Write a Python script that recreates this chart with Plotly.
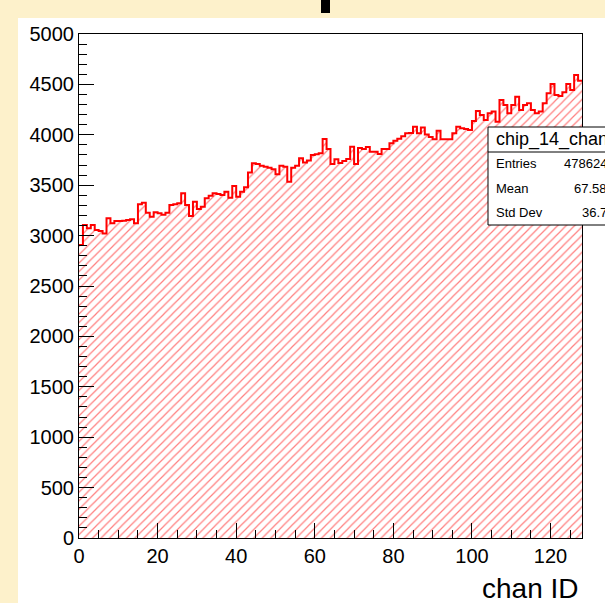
import plotly.graph_objects as go

# Counts per channel (128 channels, one bin each)
counts = [
    2907, 3105, 3072, 3105, 3056, 3046, 3022, 3171, 3122, 3145,
    3145, 3148, 3155, 3161, 3122, 3310, 3327, 3227, 3188, 3231,
    3221, 3208, 3227, 3304, 3310, 3320, 3420, 3304, 3194, 3337,
    3264, 3287, 3370, 3396, 3420, 3413, 3403, 3436, 3376, 3492,
    3386, 3436, 3479, 3625, 3717, 3710, 3694, 3684, 3674, 3657,
    3608, 3694, 3684, 3535, 3674, 3694, 3767, 3724, 3744, 3800,
    3806, 3817, 3958, 3859, 3710, 3757, 3720, 3740, 3760, 3882,
    3710, 3870, 3860, 3880, 3833, 3833, 3810, 3860, 3860, 3915,
    3942, 3960, 3985, 4015, 4018, 4081, 4015, 4072, 4003, 3978,
    3956, 4041, 3955, 3955, 3955, 4015, 4081, 4064, 4058, 4048,
    4137, 4236, 4196, 4147, 4213, 4230, 4130, 4345, 4296, 4213,
    4296, 4378, 4246, 4296, 4312, 4246, 4213, 4230, 4312, 4411,
    4504, 4395, 4385, 4421, 4504, 4444, 4593, 4537,
]
n_bins = 128
x_ticks = [0, 20, 40, 60, 80, 100, 120]
y_ticks = [0, 500, 1000, 1500, 2000, 2500, 3000, 3500, 4000, 4500, 5000]

hist_name = "chip_14_chan"
stat_labels = ["Entries", "Mean", "Std Dev"]
stat_values = ["478624", "67.58", "36.7"]
x_title = "chan ID"

W, H = 605, 603
L, R, T, B = 79, 582, 34, 538  # frame edges in pixels

FONT = "Liberation Sans, Arial, Helvetica, sans-serif"
CREAM = "#fdf1cb"


def px(xp):
    return (xp - L) / (R - L)


def py(yp):
    return (B - yp) / (B - T)


edges = list(range(n_bins + 1))
steps = counts + [counts[-1]]

fig = go.Figure()
fig.add_trace(go.Scatter(
    x=edges, y=steps, mode="lines", line_shape="hv",
    line=dict(color="#ff0000", width=2),
    fill="tozeroy", fillcolor="rgba(0,0,0,0)",
    fillpattern=dict(shape="/", fgcolor="#ff0000", bgcolor="white",
                     size=6, solidity=0.2),
    hoverinfo="skip", showlegend=False,
))

shapes = [
    # white pad area
    dict(type="rect", xref="paper", yref="paper", layer="below",
         x0=px(18), x1=px(W + 10), y0=py(18), y1=py(H + 10),
         fillcolor="white", line=dict(width=0)),
    # fragment of title box above the frame
    dict(type="rect", xref="paper", yref="paper", layer="above",
         x0=px(321), x1=px(330), y0=py(0), y1=py(13),
         fillcolor="black", line=dict(width=0)),
    # statistics box
    dict(type="rect", xref="paper", yref="paper", layer="above",
         x0=px(488), x1=px(W + 20), y0=py(127), y1=py(225),
         fillcolor="white", line=dict(color="black", width=1)),
    dict(type="line", xref="paper", yref="paper", layer="above",
         x0=px(488), x1=px(W + 20), y0=py(152), y1=py(152),
         line=dict(color="black", width=1)),
]

annotations = [
    dict(text=hist_name, xref="paper", yref="paper", x=px(494), y=py(139.5),
         xanchor="left", yanchor="middle", showarrow=False,
         font=dict(family=FONT, size=18, color="black")),
    dict(text=x_title, xref="paper", yref="paper", x=px(581), y=py(588),
         xanchor="right", yanchor="middle", showarrow=False,
         font=dict(family=FONT, size=28, color="black")),
]
for i, (lab, val) in enumerate(zip(stat_labels, stat_values)):
    yy = 163 + 25 * i
    annotations.append(dict(text=lab, xref="paper", yref="paper", x=px(494), y=py(yy),
                            xanchor="left", yanchor="middle", showarrow=False,
                            font=dict(family=FONT, size=13, color="black")))
    annotations.append(dict(text=val, xref="paper", yref="paper", x=px(609), y=py(yy),
                            xanchor="right", yanchor="middle", showarrow=False,
                            font=dict(family=FONT, size=13, color="black")))

axis_common = dict(
    showline=True, mirror=True, linecolor="black", linewidth=1,
    ticks="inside", tickcolor="black", tickwidth=1, ticklen=15,
    showgrid=False, zeroline=False,
    tickfont=dict(family=FONT, size=20, color="black"),
)

fig.update_layout(
    width=W, height=H,
    margin=dict(l=L, r=W - R, t=T, b=H - B, pad=0),
    paper_bgcolor=CREAM, plot_bgcolor="white",
    xaxis=dict(range=[0, n_bins], tickvals=x_ticks,
               minor=dict(dtick=5, tick0=0, ticks="inside", ticklen=8,
                          tickcolor="black", showgrid=False),
               **axis_common),
    yaxis=dict(range=[0, 5000], tickvals=y_ticks,
               minor=dict(dtick=100, tick0=0, ticks="inside", ticklen=8,
                          tickcolor="black", showgrid=False),
               **axis_common),
    shapes=shapes,
    annotations=annotations,
)

fig.write_html("out.html")
